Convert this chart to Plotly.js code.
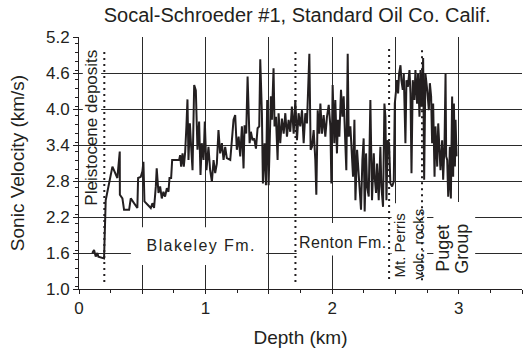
<!DOCTYPE html>
<html>
<head>
<meta charset="utf-8">
<script src="https://cdn.plot.ly/plotly-3.0.1.min.js"></script>
<style>
  html, body { margin: 0; padding: 0; background: #fff; }
  #chart { width: 526px; height: 357px; }
</style>
</head>
<body>
<div id="chart"></div>
<script>
// Sonic log of the Socal-Schroeder #1 well: depth (km) and interval velocity (km/s)
const depthKm = [
  0.105, 0.119, 0.132, 0.145, 0.153, 0.198, 0.211, 0.237, 0.264, 0.303,
  0.322, 0.323, 0.343, 0.356, 0.396, 0.409, 0.435, 0.461, 0.467, 0.488,
  0.501, 0.509, 0.517, 0.554, 0.567, 0.580, 0.593, 0.607, 0.614, 0.628,
  0.641, 0.654, 0.667, 0.680, 0.694, 0.707, 0.715, 0.728, 0.736, 0.791,
  0.799, 0.807, 0.818, 0.828, 0.839, 0.849, 0.857, 0.865, 0.876, 0.886,
  0.897, 0.910, 0.923, 0.936, 0.949, 0.960, 0.970, 0.984, 0.994, 1.007,
  1.023, 1.036, 1.050, 1.063, 1.076, 1.089, 1.102, 1.115, 1.129, 1.142,
  1.155, 1.168, 1.195, 1.208, 1.221, 1.234, 1.247, 1.261, 1.274, 1.287,
  1.300, 1.308, 1.321, 1.332, 1.340, 1.348, 1.358, 1.371, 1.384, 1.398,
  1.411, 1.424, 1.432, 1.445, 1.453, 1.466, 1.477, 1.487, 1.498, 1.506,
  1.516, 1.524, 1.537, 1.545, 1.556, 1.569, 1.577, 1.590, 1.603, 1.617,
  1.630, 1.643, 1.656, 1.669, 1.682, 1.696, 1.709, 1.722, 1.735, 1.748,
  1.762, 1.775, 1.788, 1.801, 1.820, 1.830, 1.841, 1.854, 1.867, 1.875,
  1.886, 1.899, 1.907, 1.920, 1.933, 1.946, 1.959, 1.973, 1.986, 1.994,
  2.004, 2.017, 2.025, 2.038, 2.046, 2.057, 2.070, 2.081, 2.091, 2.104,
  2.112, 2.123, 2.131, 2.144, 2.152, 2.165, 2.176, 2.184, 2.197, 2.207,
  2.218, 2.228, 2.239, 2.249, 2.257, 2.268, 2.276, 2.289, 2.302, 2.315,
  2.329, 2.336, 2.347, 2.355, 2.368, 2.381, 2.389, 2.402, 2.413, 2.421,
  2.429, 2.439, 2.450, 2.460, 2.474, 2.487, 2.495, 2.503, 2.513, 2.521,
  2.529, 2.540, 2.547, 2.558, 2.566, 2.579, 2.587, 2.598, 2.611, 2.619,
  2.627, 2.637, 2.650, 2.658, 2.671, 2.679, 2.690, 2.698, 2.706, 2.714,
  2.719, 2.727, 2.737, 2.751, 2.764, 2.772, 2.782, 2.790, 2.798, 2.809,
  2.816, 2.824, 2.830, 2.838, 2.848, 2.856, 2.869, 2.877, 2.888, 2.896,
  2.901, 2.909, 2.917, 2.922, 2.930, 2.938, 2.948, 2.956, 2.962, 2.970,
  2.975, 2.983
];
const velocityKms = [
  1.60, 1.65, 1.54, 1.60, 1.54, 1.51, 2.48, 2.76, 3.04, 2.85,
  3.29, 2.57, 2.51, 2.32, 2.32, 2.51, 2.43, 2.35, 2.85, 2.87,
  2.96, 3.12, 2.46, 2.37, 2.35, 2.43, 2.35, 2.71, 3.01, 2.60,
  2.71, 2.51, 2.62, 2.54, 2.68, 2.62, 2.85, 2.85, 3.15, 3.15,
  3.23, 3.04, 3.26, 3.04, 3.29, 3.73, 4.16, 3.15, 3.76, 3.37,
  2.98, 4.40, 4.31, 3.32, 3.79, 2.90, 3.43, 3.15, 3.79, 2.98,
  3.37, 2.98, 2.79, 3.15, 2.93, 3.09, 3.65, 3.26, 3.43, 3.15,
  3.37, 3.18, 3.15, 3.48, 3.82, 3.90, 3.32, 3.54, 3.21, 3.71,
  3.01, 3.73, 3.59, 4.54, 3.98, 3.43, 3.62, 3.48, 3.51, 3.34,
  3.68, 3.71, 4.83, 3.93, 2.76, 3.43, 2.73, 4.15, 2.73, 3.32,
  4.21, 3.82, 4.68, 3.71, 3.87, 3.15, 3.93, 3.43, 3.84, 3.59,
  3.93, 3.54, 3.82, 3.62, 4.04, 3.59, 4.15, 3.48, 3.93, 3.71,
  3.98, 3.43, 3.93, 3.76, 4.92, 3.32, 3.37, 3.65, 3.15, 2.57,
  3.98, 3.59, 4.09, 3.59, 3.90, 3.54, 3.87, 4.07, 3.71, 2.76,
  4.40, 3.43, 4.15, 3.26, 3.82, 3.54, 4.32, 3.87, 4.21, 3.43,
  2.98, 4.92, 3.54, 3.71, 3.37, 2.87, 3.82, 2.48, 3.32, 2.98,
  2.71, 2.32, 3.15, 3.51, 2.29, 3.26, 2.71, 2.54, 4.15, 2.48,
  3.26, 2.87, 2.60, 3.09, 2.48, 3.37, 2.71, 2.37, 4.09, 3.87,
  2.48, 3.48, 3.43, 2.76, 2.71, 2.79, 4.09, 4.32, 4.48, 4.26,
  4.59, 4.73, 4.48, 4.32, 4.59, 3.43, 4.48, 4.37, 4.65, 4.26,
  2.93, 4.48, 4.15, 4.65, 4.09, 4.59, 3.87, 4.65, 4.04, 4.54,
  4.85, 2.82, 4.59, 4.32, 3.98, 4.43, 4.21, 3.43, 4.09, 2.87,
  3.71, 3.37, 3.04, 3.76, 3.26, 2.98, 3.48, 2.82, 3.43, 4.59,
  3.21, 3.15, 2.54, 2.71, 3.37, 2.51, 4.21, 2.87, 4.09, 3.04,
  3.82, 3.21
];

// Formation contacts (dotted verticals): depth, upper and lower end of each line
const contactDepthKm = [0.20, 1.71, 2.45, 2.71];
const contactTopKms  = [4.95, 4.95, 5.00, 4.98];
const contactBaseKms = [1.10, 1.10, 1.15, 1.10];

// Unit names written across the log (two-line names are split on <br>)
const unitNames = [
  'Pleistocene deposits',
  'Blakeley Fm.',
  'Renton Fm.',
  'Mt. Perris<br>volc. rocks',
  'Puget<br>Group'
];

// Depth axis: gridlines every 0.5 km, labels on whole kilometres
const xTickVals = [0, 0.5, 1, 1.5, 2, 2.5, 3, 3.5];
const xTickText = ['0', '', '1', '', '2', '', '3', ''];

const chartTitle = 'Socal-Schroeder #1, Standard Oil Co. Calif.';
const xTitle = 'Depth (km)';
const yTitle = 'Sonic Velocity (km/s)';

const FONT = '"Liberation Sans", Arial, sans-serif';
const INK = '#231f20';
const GRID = '#2a2a2a';

// Build the contact lines as one broken trace
const cx = [], cy = [];
contactDepthKm.forEach((d, i) => {
  cx.push(d, d, null);
  cy.push(contactTopKms[i], contactBaseKms[i], null);
});

const traces = [
  {
    x: depthKm, y: velocityKms,
    type: 'scatter', mode: 'lines',
    line: { color: INK, width: 2 },
    hoverinfo: 'skip'
  },
  {
    x: cx, y: cy,
    type: 'scatter', mode: 'lines',
    line: { color: INK, width: 2, dash: '2px,4px' },
    connectgaps: false,
    hoverinfo: 'skip'
  }
];

// White panels behind the unit names, sitting over the grid but under the traces
function panel(x0, x1, y0, y1) {
  return {
    type: 'rect', layer: 'between', xref: 'x', yref: 'y',
    x0: x0, x1: x1, y0: y0, y1: y1,
    fillcolor: '#ffffff', line: { width: 0 }
  };
}

function label(text, x, y, size, angle) {
  return {
    text: text, x: x, y: y, xref: 'x', yref: 'y',
    showarrow: false, textangle: angle || 0,
    xanchor: 'center', yanchor: 'middle', align: 'center',
    font: { family: FONT, size: size, color: INK }
  };
}

const perris = unitNames[3].split('<br>');
const puget = unitNames[4].split('<br>');

const layout = {
  width: 526, height: 357,
  margin: { l: 79, r: 4, t: 37, b: 68, pad: 0 },
  paper_bgcolor: '#ffffff', plot_bgcolor: '#ffffff',
  showlegend: false,
  font: { family: FONT, color: INK, size: 16 },
  title: {
    text: chartTitle,
    font: { family: FONT, size: 20, color: INK },
    xref: 'container', x: 0.565, xanchor: 'center',
    yref: 'container', y: 0.957, yanchor: 'middle'
  },
  xaxis: {
    range: [0, 3.5], fixedrange: true,
    tickmode: 'array', tickvals: xTickVals, ticktext: xTickText,
    ticks: 'outside', ticklen: 4, tickcolor: INK, tickwidth: 1,
    minor: { dtick: 0.25, ticks: 'outside', ticklen: 3, tickcolor: INK, showgrid: false },
    showgrid: true, gridcolor: GRID, gridwidth: 1,
    showline: true, linecolor: INK, linewidth: 1,
    zeroline: false,
    tickfont: { family: FONT, size: 17, color: INK },
    title: { text: xTitle, font: { family: FONT, size: 19, color: INK }, standoff: 13 }
  },
  yaxis: {
    range: [1.0, 5.2], fixedrange: true,
    tick0: 1.0, dtick: 0.6, tickformat: '.1f',
    ticks: 'outside', ticklen: 5, tickcolor: INK, tickwidth: 1,
    minor: { dtick: 0.15, ticks: 'outside', ticklen: 3, tickcolor: INK, showgrid: false },
    showgrid: true, gridcolor: GRID, gridwidth: 1,
    showline: true, linecolor: INK, linewidth: 1,
    zeroline: false,
    tickfont: { family: FONT, size: 17, color: INK },
    title: { text: yTitle, font: { family: FONT, size: 19, color: INK }, standoff: 16 }
  },
  shapes: [
    panel(0.03, 0.175, 3.45, 4.95),
    panel(0.41, 1.48, 1.40, 2.03),
    panel(1.72, 2.46, 1.56, 2.10),
    panel(2.47, 2.75, 1.00, 2.43),
    panel(2.80, 3.13, 1.00, 2.45)
  ],
  annotations: [
    label(unitNames[0], 0.103, 3.69, 17, -90),
    label(unitNames[1], 0.96, 1.73, 16, 0),
    label(unitNames[2], 2.085, 1.78, 16, 0),
    label(perris[0], 2.533, 1.72, 15, -90),
    label(perris[1], 2.675, 1.75, 15, -90),
    label(puget[0], 2.88, 1.68, 18, -90),
    label(puget[1], 3.025, 1.67, 18, -90)
  ]
};

Plotly.newPlot('chart', traces, layout, { displayModeBar: false, staticPlot: true }).then(() => {
  // spread the letters of the horizontal formation names
  document.querySelectorAll('#chart .annotation-text').forEach(t => {
    const s = t.textContent;
    if (s === 'Blakeley Fm.') t.style.letterSpacing = '1.4px';
    if (s === 'Renton Fm.') t.style.letterSpacing = '0.4px';
  });
});
</script>
</body>
</html>
